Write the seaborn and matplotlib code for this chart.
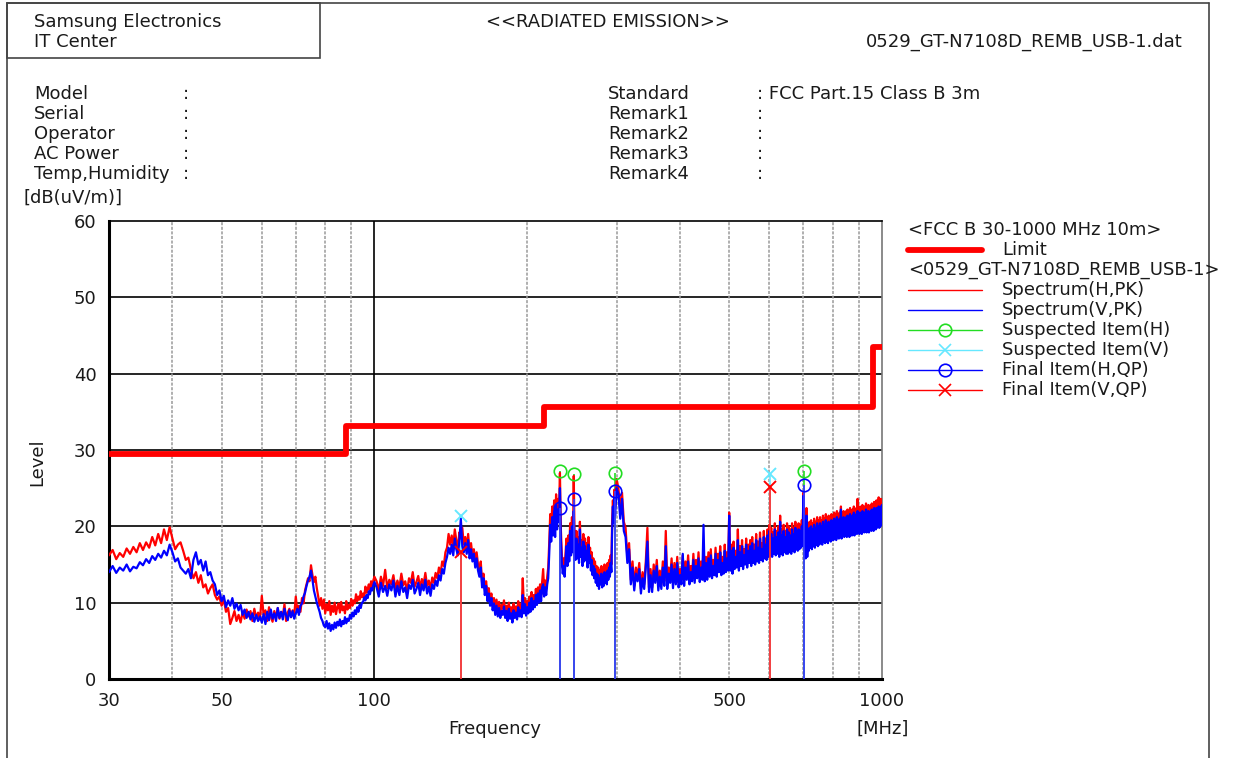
import numpy as np
import pandas as pd
import matplotlib
matplotlib.use("Agg")
import matplotlib.pyplot as plt
import matplotlib.ticker as mticker
from matplotlib.lines import Line2D
from matplotlib.patches import Rectangle
import seaborn as sns

# receiver sweep grids (MHz)
freq_low = np.arange(60, 201) / 2        # 30.0 .. 100.0, 0.5 MHz step
freq_mid = np.arange(101, 301)           # 101 .. 300, 1 MHz step
freq_high = np.arange(121, 401) * 2.5    # 302.5 .. 1000, 2.5 MHz step

# Spectrum(H,PK) levels [dB(uV/m)]
h_low = [16.2, 16.9, 15.7, 16.5, 16.0, 17.1, 16.4, 17.3, 16.6, 17.8,
         16.9, 17.9, 17.2, 18.6, 17.5, 19.0, 17.8, 19.6, 18.2, 19.9,
         18.4, 17.0, 17.6, 17.9, 16.8, 15.6, 15.9, 14.4, 13.2, 14.0,
         12.6, 13.6, 12.0, 12.4, 11.2, 11.9, 12.4, 11.0, 10.4, 10.8,
         9.6, 10.4, 8.8, 9.3, 7.2, 8.0, 8.9, 7.6, 8.4, 7.4,
         8.8, 7.9, 9.1, 8.2, 8.9, 7.6, 9.2, 8.0, 8.7, 7.8,
         10.9, 8.4, 9.0, 7.6, 9.4, 8.2, 7.5, 8.9, 8.0, 9.3,
         7.9, 8.8, 8.3, 9.8, 7.6, 8.7, 9.2, 8.1, 9.0, 8.3,
         10.8, 8.9, 9.6, 8.8, 10.6, 9.9, 11.6, 12.4, 13.2, 12.8,
         14.9, 13.6, 12.7, 13.4, 11.9, 10.8, 9.6, 10.6, 9.2, 10.4,
         8.6, 9.8, 9.0, 10.2, 8.4, 9.6, 8.8, 10.0, 8.5, 9.4,
         9.9, 8.7, 10.1, 9.0, 9.5, 8.6, 10.2, 9.1, 9.7, 9.3,
         10.5, 9.6, 10.3, 9.9, 11.1, 10.2, 10.8, 10.4, 11.5, 10.7,
         11.2, 10.8, 12.1, 11.3, 11.8, 12.4, 11.6, 12.8, 12.2, 12.9,
         13.4]
h_mid = [12.8, 11.6, 13.4, 12.2, 14.3, 11.9, 13.0, 12.4, 13.6, 11.8,
         12.9, 12.0, 13.8, 12.3, 12.8, 11.5, 13.2, 12.6, 14.0, 12.1,
         12.7, 13.5, 11.9, 13.1, 12.4, 13.9, 12.2, 12.9, 11.8, 13.3,
         12.6, 13.9, 13.2, 14.6, 13.8, 15.4, 14.8, 16.6, 17.2, 19.0,
         17.6, 18.8, 17.4, 19.6, 18.2, 17.0, 19.2, 18.4, 19.8, 17.6,
         18.6, 17.2, 19.0, 16.6, 17.8, 16.2, 17.0, 15.4, 16.6, 15.0,
         14.2, 15.4, 12.6, 13.8, 11.8, 12.8, 11.0, 11.9, 10.4, 11.2,
         9.8, 10.6, 9.2, 10.4, 9.0, 10.1, 8.8, 9.7, 9.2, 10.3,
         8.9, 9.6, 8.4, 10.0, 8.7, 9.4, 8.2, 9.9, 8.8, 9.5,
         8.6, 10.2, 9.0, 9.8, 8.9, 13.2, 9.4, 10.6, 9.1, 10.2,
         9.4, 10.8, 9.6, 11.4, 9.9, 11.0, 10.2, 11.8, 10.5, 12.0,
         10.8, 12.4, 11.0, 12.8, 14.4, 11.6, 12.9, 11.8, 13.4, 14.6,
         17.8, 21.6, 19.4, 22.6, 20.2, 23.4, 19.8, 24.2, 21.0, 23.6,
         22.0, 27.0, 19.6, 16.4, 14.6, 15.8, 14.2, 16.6, 18.4, 15.8,
         18.8, 16.4, 20.4, 17.2, 21.2, 17.6, 26.6, 18.0, 16.6, 19.4,
         16.8, 18.6, 16.2, 20.6, 17.0, 18.2, 15.8, 19.0, 16.4, 18.4,
         16.6, 17.8, 15.6, 18.6, 16.2, 17.2, 15.2, 16.6, 14.6, 15.8,
         14.2, 15.4, 13.6, 14.8, 13.2, 14.6, 12.8, 14.2, 13.4, 14.8,
         13.0, 14.4, 13.2, 15.0, 13.6, 14.8, 13.4, 15.2, 14.0, 15.6,
         14.4, 16.2, 15.0, 20.8, 23.4, 21.6, 24.8, 22.6, 24.2, 26.2]
h_high = [25.0, 22.2, 24.4, 20.6, 19.8, 16.0, 17.8, 13.0, 15.4, 12.2,
          14.6, 13.4, 15.2, 11.8, 14.0, 12.4, 15.4, 19.8, 12.0, 14.4,
          12.0, 15.0, 13.2, 15.6, 12.2, 14.2, 12.4, 15.4, 12.8, 19.4,
          12.4, 14.6, 13.2, 15.8, 12.6, 15.2, 13.0, 16.0, 12.6, 14.4,
          13.0, 16.2, 12.8, 15.4, 13.6, 16.2, 13.0, 14.8, 13.4, 16.4,
          13.2, 15.6, 13.8, 16.6, 13.4, 15.4, 13.6, 17.0, 13.4, 16.0,
          13.6, 16.6, 14.0, 17.0, 13.8, 15.6, 14.2, 17.2, 14.0, 16.4,
          14.6, 17.4, 14.2, 16.0, 14.4, 17.6, 14.6, 16.6, 14.8, 21.8,
          14.8, 17.6, 14.4, 18.0, 15.0, 16.8, 15.2, 19.6, 14.8, 17.4,
          15.4, 18.2, 15.0, 17.0, 15.6, 18.4, 15.2, 17.6, 15.8, 18.2,
          15.4, 18.6, 15.8, 17.6, 15.6, 19.0, 16.0, 18.0, 15.8, 19.2,
          16.2, 17.8, 16.0, 19.4, 16.4, 18.4, 16.2, 19.6, 16.6, 20.2,
          16.8, 19.8, 16.6, 19.2, 17.0, 20.4, 16.8, 19.4, 17.0, 20.0,
          16.6, 21.4, 17.0, 19.6, 16.8, 20.2, 17.2, 19.4, 17.0, 20.4,
          17.0, 20.0, 17.2, 19.6, 17.0, 20.4, 17.4, 19.8, 17.2, 20.6,
          17.6, 20.0, 17.4, 20.4, 17.6, 20.2, 17.8, 20.8, 18.0, 24.4,
          21.6, 18.0, 16.4, 22.4, 16.6, 20.2, 17.4, 20.6, 17.8, 20.8,
          17.6, 20.4, 18.0, 21.0, 17.8, 20.6, 18.2, 21.2, 18.0, 20.8,
          18.2, 21.2, 18.4, 20.8, 18.2, 21.4, 18.6, 21.0, 18.4, 21.6,
          18.6, 21.2, 18.4, 21.4, 18.8, 21.0, 18.6, 21.6, 18.8, 21.4,
          18.8, 21.8, 19.0, 21.4, 18.8, 22.0, 19.2, 21.6, 19.0, 21.8,
          19.2, 22.6, 19.0, 21.6, 19.4, 22.0, 19.2, 21.6, 19.4, 22.0,
          19.2, 22.2, 19.4, 21.8, 19.2, 22.4, 19.6, 22.0, 19.4, 22.2,
          19.6, 22.6, 19.4, 22.0, 19.8, 22.4, 19.6, 23.6, 19.8, 22.2,
          19.6, 22.6, 19.8, 22.2, 19.6, 22.8, 20.0, 22.4, 19.8, 22.6,
          20.0, 23.0, 19.8, 22.4, 20.0, 22.8, 19.8, 22.6, 20.2, 22.8,
          20.0, 23.0, 20.2, 22.6, 20.0, 23.2, 20.4, 22.8, 20.2, 23.4,
          20.4, 23.0, 20.6, 23.8, 20.4, 23.0, 20.6, 23.6, 20.8, 23.4]

# Spectrum(V,PK) levels
v_low = [14.0, 14.8, 13.9, 14.6, 14.2, 15.0, 14.1, 14.7, 14.5, 15.3,
         14.9, 15.7, 15.2, 16.1, 15.6, 16.4, 15.9, 16.8, 16.2, 17.6,
         16.6, 15.4, 15.8, 14.6, 14.2, 13.8, 14.4, 13.2, 15.6, 16.6,
         15.0, 15.6, 14.2, 15.4, 13.6, 14.0, 12.9, 12.4, 11.0, 11.6,
         10.2, 10.9, 9.4, 10.3, 9.6, 10.6, 9.2, 9.9, 9.0, 9.7,
         8.4, 9.1, 8.0, 8.8, 7.8, 8.6, 7.5, 8.4, 7.6, 8.2,
         7.4, 8.5, 7.2, 8.8, 7.7, 9.1, 7.9, 8.6, 7.6, 9.3,
         8.0, 8.8, 7.8, 9.2, 8.3, 7.7, 9.0, 8.1, 8.9, 7.9,
         8.6, 9.2, 8.4, 9.6, 9.9, 10.8, 11.3, 12.2, 12.9, 13.4,
         14.2, 13.0, 11.6, 10.8, 10.0, 9.4, 8.8, 8.0, 7.6, 7.0,
         6.8, 7.6, 6.6, 7.3, 6.3, 7.1, 6.5, 7.4, 6.7, 7.5,
         7.0, 7.8, 6.9, 7.6, 7.2, 8.1, 7.3, 7.9, 7.6, 8.4,
         7.9, 8.7, 8.2, 9.0, 8.5, 9.4, 8.8, 9.7, 9.3, 10.0,
         10.1, 10.7, 10.3, 11.0, 10.6, 11.5, 11.1, 11.9, 11.6, 12.3,
         12.7]
v_mid = [12.0, 10.8, 12.6, 11.4, 12.2, 10.9, 12.4, 11.6, 12.9, 10.8,
         12.2, 11.0, 12.8, 11.4, 12.0, 10.6, 12.3, 11.8, 13.0, 11.2,
         11.8, 12.6, 11.0, 12.4, 11.6, 13.0, 11.2, 12.1, 10.9, 12.4,
         11.8, 12.9, 12.2, 13.6, 12.9, 14.4, 13.8, 15.2, 16.0, 17.2,
         16.4, 17.6, 16.2, 18.4, 17.0, 16.2, 18.0, 21.0, 17.4, 16.6,
         17.8, 16.4, 18.2, 15.8, 17.0, 15.4, 16.4, 14.6, 15.8, 14.2,
         13.4, 14.6, 12.0, 13.2, 11.0, 12.2, 10.2, 11.2, 9.6, 10.6,
         9.0, 9.9, 8.4, 9.6, 8.2, 9.3, 8.0, 8.9, 8.4, 9.5,
         8.0, 8.9, 7.6, 9.2, 7.9, 8.6, 7.4, 9.0, 8.0, 8.7,
         7.8, 9.4, 8.2, 9.0, 8.1, 11.0, 8.6, 9.8, 8.3, 9.4,
         8.6, 10.0, 8.8, 10.6, 9.1, 10.2, 9.4, 11.0, 9.7, 11.2,
         10.0, 11.6, 10.2, 12.0, 12.4, 10.8, 12.0, 11.0, 12.4, 13.2,
         16.4, 20.2, 18.0, 21.2, 18.8, 22.0, 18.6, 22.8, 19.6, 22.2,
         20.6, 25.0, 18.2, 15.2, 13.8, 14.8, 13.4, 15.6, 17.4, 14.8,
         17.8, 15.4, 19.4, 16.2, 20.0, 16.6, 22.0, 17.0, 15.6, 18.4,
         15.8, 17.6, 15.2, 19.6, 16.0, 17.2, 14.8, 18.0, 15.4, 17.4,
         15.6, 16.8, 14.6, 17.6, 15.2, 16.2, 14.2, 15.6, 13.6, 14.8,
         13.2, 14.4, 12.6, 13.8, 12.2, 13.6, 11.8, 13.2, 12.4, 13.8,
         12.0, 13.4, 12.2, 14.0, 12.6, 13.8, 12.4, 14.2, 13.0, 14.6,
         13.4, 15.2, 14.0, 19.4, 22.6, 20.4, 23.8, 21.4, 23.2, 25.0]
v_high = [24.2, 21.0, 23.6, 19.4, 18.6, 15.2, 17.0, 12.4, 14.6, 11.6,
          13.8, 12.8, 14.4, 11.2, 13.2, 11.8, 14.6, 18.0, 11.4, 13.6,
          11.4, 14.2, 12.6, 14.8, 11.6, 13.4, 11.8, 14.6, 12.2, 17.4,
          11.8, 13.8, 12.6, 15.0, 11.9, 14.4, 12.4, 15.2, 12.0, 13.6,
          12.4, 16.4, 12.2, 14.6, 13.0, 15.4, 12.4, 14.0, 12.8, 15.6,
          12.6, 14.8, 13.2, 15.8, 12.7, 14.6, 13.0, 20.2, 12.8, 15.2,
          13.0, 15.8, 13.4, 16.2, 13.2, 14.8, 13.6, 16.4, 13.4, 15.6,
          14.0, 16.6, 13.6, 15.2, 13.8, 16.8, 14.0, 15.8, 14.2, 21.4,
          14.2, 16.8, 13.8, 17.2, 14.4, 16.0, 14.6, 18.2, 14.2, 16.6,
          14.8, 17.4, 14.4, 16.2, 15.0, 17.6, 14.6, 16.8, 15.2, 17.4,
          14.8, 17.8, 15.2, 16.8, 15.0, 18.2, 15.4, 17.2, 15.2, 18.4,
          15.6, 17.0, 15.4, 18.6, 15.8, 17.6, 15.6, 18.8, 16.0, 19.4,
          16.2, 19.0, 16.0, 18.4, 16.4, 19.6, 16.2, 18.6, 16.4, 19.2,
          16.0, 20.6, 16.4, 18.8, 16.2, 19.4, 16.6, 18.6, 16.4, 19.6,
          16.4, 19.2, 16.6, 18.8, 16.4, 19.6, 16.8, 19.0, 16.6, 19.8,
          17.0, 19.2, 16.8, 19.6, 17.0, 19.4, 17.2, 20.0, 17.4, 24.0,
          21.0, 17.4, 15.8, 21.4, 16.0, 19.4, 16.8, 19.8, 17.2, 20.0,
          17.0, 19.6, 17.4, 20.2, 17.2, 19.8, 17.6, 20.4, 17.4, 20.0,
          17.6, 20.4, 17.8, 20.0, 17.6, 20.6, 18.0, 20.2, 17.8, 20.8,
          18.0, 20.4, 17.8, 20.6, 18.2, 20.2, 18.0, 20.8, 18.2, 20.6,
          18.2, 21.0, 18.4, 20.6, 18.2, 21.2, 18.6, 20.8, 18.4, 21.0,
          18.6, 22.2, 18.4, 20.8, 18.8, 21.2, 18.6, 20.8, 18.8, 21.2,
          18.6, 21.4, 18.8, 21.0, 18.6, 21.6, 19.0, 21.2, 18.8, 21.4,
          19.0, 21.8, 18.8, 21.2, 19.2, 21.6, 19.0, 22.0, 19.2, 21.4,
          19.0, 21.8, 19.2, 21.4, 19.0, 22.0, 19.4, 21.6, 19.2, 21.8,
          19.4, 22.2, 19.2, 21.6, 19.4, 22.0, 19.2, 21.8, 19.6, 22.0,
          19.4, 22.2, 19.6, 21.8, 19.4, 22.4, 19.8, 22.0, 19.6, 22.4,
          19.8, 22.2, 20.0, 22.6, 19.8, 22.2, 20.0, 22.6, 20.2, 22.8]

# FCC B 30-1000 MHz 10m limit
limit_freq = [30, 88, 216, 960, 1000]
limit_level = [29.5, 33.1, 35.6, 43.5, 43.5]

# suspected / final items
susp_h_freq = [232, 247.3, 297.8, 702]
susp_h_level = [27.3, 26.8, 27.0, 27.3]
susp_v_freq = [148.1, 601.6]
susp_v_level = [21.4, 26.9]
final_h_freq = [232, 247.3, 297.8, 702]
final_h_level = [22.4, 23.6, 24.6, 25.4]
final_v_freq = [148.1, 601.6]
final_v_level = [16.6, 25.2]

RED = "#ff0000"
BLUE = "#0000ff"
GREEN = "#22dd22"
CYAN = "#66e8ff"
TXT = "#1a1a1a"

assert len(h_low) == len(v_low) == len(freq_low)
assert len(h_mid) == len(v_mid) == len(freq_mid)
assert len(h_high) == len(v_high) == len(freq_high)

spec = pd.DataFrame({
    "Frequency": np.concatenate([freq_low, freq_mid, freq_high]),
    "H": h_low + h_mid + h_high,
    "V": v_low + v_mid + v_high,
})
limit_df = pd.DataFrame({"Frequency": limit_freq, "Limit": limit_level})

sns.set_style("white")
plt.rcParams["font.family"] = ["DejaVu Sans"]
plt.rcParams["font.size"] = 13

W, H = 1250, 758
fig = plt.figure(figsize=(W / 100, H / 100), dpi=100)
ax = fig.add_axes([109 / W, 1 - 679 / H, (882 - 109) / W, (679 - 221) / H])


def ftext(x, y, s, **kw):
    kw.setdefault("va", "center")
    kw.setdefault("color", TXT)
    kw.setdefault("fontsize", 13)
    fig.text(x / W, 1 - y / H, s, **kw)


def fline(x0, x1, y0, y1, **kw):
    fig.add_artist(Line2D([x0 / W, x1 / W], [1 - y0 / H, 1 - y1 / H],
                          transform=fig.transFigure, **kw))


# grid
for lv in range(10, 60, 10):
    ax.axhline(lv, color="black", lw=1.2, zorder=1)
ax.axvline(100, color="black", lw=1.2, zorder=1)
for f in [40, 50, 60, 70, 80, 90, 200, 300, 400, 500, 600, 700, 800, 900]:
    ax.axvline(f, color="#9a9a9a", lw=1.1, ls=(0, (2, 1)), zorder=1)

# item stems
ax.vlines(susp_h_freq, 0, susp_h_level, color=GREEN, lw=1.2, zorder=2)
ax.vlines(susp_v_freq, 0, susp_v_level, color=CYAN, lw=1.2, zorder=2)
ax.vlines(final_h_freq, 0, final_h_level, color="#3a3aff", lw=1.3, zorder=5)
ax.vlines(final_v_freq, 0, final_v_level, color="#ff3030", lw=1.3, zorder=5)

# spectra
sns.lineplot(data=spec, x="Frequency", y="H", color=RED, lw=1.6,
             estimator=None, ax=ax, zorder=3)
sns.lineplot(data=spec, x="Frequency", y="V", color=BLUE, lw=1.6,
             estimator=None, ax=ax, zorder=4)

# limit
sns.lineplot(data=limit_df, x="Frequency", y="Limit", color=RED, lw=4.2,
             drawstyle="steps-post", estimator=None, ax=ax, zorder=6)

# item markers
ax.plot(susp_h_freq, susp_h_level, ls="none", marker="o", ms=9, mfc="none",
        mec=GREEN, mew=1.2, zorder=7)
ax.plot(susp_v_freq, susp_v_level, ls="none", marker="x", ms=9,
        mec=CYAN, mew=1.4, zorder=7)
ax.plot(final_h_freq, final_h_level, ls="none", marker="o", ms=9, mfc="none",
        mec=BLUE, mew=1.2, zorder=7)
ax.plot(final_v_freq, final_v_level, ls="none", marker="x", ms=9,
        mec=RED, mew=1.4, zorder=7)

# axes
ax.set_xscale("log")
ax.set_xlim(30, 1000)
ax.set_ylim(0, 60)
ax.xaxis.set_major_locator(mticker.FixedLocator([30, 50, 100, 500, 1000]))
ax.xaxis.set_major_formatter(mticker.FixedFormatter(["30", "50", "100", "500", "1000"]))
ax.xaxis.set_minor_locator(mticker.NullLocator())
ax.yaxis.set_major_locator(mticker.MultipleLocator(10))
ax.yaxis.set_minor_locator(mticker.MultipleLocator(2))
ax.tick_params(axis="x", length=0, pad=9, labelsize=13, labelcolor=TXT)
ax.tick_params(axis="y", which="major", direction="in", length=7, width=1.2,
               pad=9, labelsize=13, labelcolor=TXT)
ax.tick_params(axis="y", which="minor", direction="in", length=7, width=1.2)
ax.set_xlabel("")
ax.set_ylabel("")
ax.grid(False)
for side in ["left", "bottom"]:
    ax.spines[side].set_linewidth(2.2)
    ax.spines[side].set_color("black")
ax.spines["top"].set_linewidth(1.2)
ax.spines["top"].set_color("black")
ax.spines["right"].set_linewidth(1.2)
ax.spines["right"].set_color("#777777")

# page frame
fline(7, 7, 3, H, color="#444444", lw=1.2)
fline(1209, 1209, 3, H, color="#444444", lw=1.2)
fline(7, 1209, 3, 3, color="#444444", lw=1.2)
fig.add_artist(Rectangle((7 / W, 1 - 58 / H), (320 - 7) / W, 55 / H,
                         transform=fig.transFigure, fill=False,
                         ec="#444444", lw=1.2))

# header text
ftext(34, 22, "Samsung Electronics")
ftext(34, 42, "IT Center")
ftext(608, 22, "<<RADIATED EMISSION>>", ha="center")
ftext(1183, 42, "0529_GT-N7108D_REMB_USB-1.dat", ha="right")

left_fields = ["Model", "Serial", "Operator", "AC Power", "Temp,Humidity"]
right_fields = ["Standard", "Remark1", "Remark2", "Remark3", "Remark4"]
right_values = [": FCC Part.15 Class B 3m", ":", ":", ":", ":"]
for i, (lf, rf, rv) in enumerate(zip(left_fields, right_fields, right_values)):
    y = 94 + 20 * i
    ftext(34, y, lf)
    ftext(183, y, ":")
    ftext(608, y, rf)
    ftext(757, y, rv)

ftext(24, 198, "[dB(uV/m)]")
ftext(37, 462, "Level", rotation=90, ha="center")
ftext(495, 729, "Frequency", ha="center")
ftext(883, 729, "[MHz]", ha="center")

# legend
lx0, lx1, lxm, ltx = 908, 982, 945, 1002
ftext(908, 230, "<FCC B 30-1000 MHz 10m>")
fline(lx0, lx1, 250, 250, color=RED, lw=4.2)
ftext(ltx, 250, "Limit")
ftext(908, 270, "<0529_GT-N7108D_REMB_USB-1>")
legend_rows = [
    ("Spectrum(H,PK)", RED, None),
    ("Spectrum(V,PK)", BLUE, None),
    ("Suspected Item(H)", GREEN, "o"),
    ("Suspected Item(V)", CYAN, "x"),
    ("Final Item(H,QP)", BLUE, "o"),
    ("Final Item(V,QP)", RED, "x"),
]
for i, (label, col, mk) in enumerate(legend_rows):
    y = 290 + 20 * i
    fline(lx0, lx1, y, y, color=col, lw=1.0)
    if mk is not None:
        fig.add_artist(Line2D([lxm / W], [1 - y / H], transform=fig.transFigure,
                              ls="none", marker=mk, ms=9, mfc="none",
                              mec=col, mew=1.2))
    ftext(ltx, y, label)

fig.savefig("out.png", dpi=100)
